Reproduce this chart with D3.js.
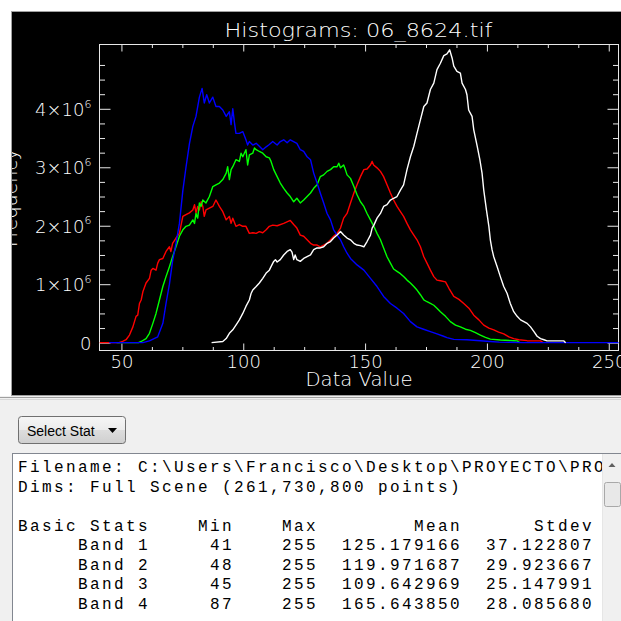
<!DOCTYPE html>
<html><head><meta charset="utf-8">
<script src="https://cdn.jsdelivr.net/npm/d3@7"></script>
<style>html,body{margin:0;padding:0;background:#fff;overflow:hidden}</style>
</head><body>
<svg id="c" width="621" height="621" xmlns="http://www.w3.org/2000/svg"></svg>
<script>
// ---------- DATA (data value, frequency in millions) ----------
const band1 = [[41,0],[45,0],[49,0],[50.5,0.02],[51.9,0.05],[53.3,0.13],[54.7,0.27],[56,0.45],[56.7,0.47],[57.4,0.67],[58.1,0.73],[58.8,0.87],[60.1,1.02],[61.5,1.1],[62.2,1.24],[62.9,1.27],[64.2,1.24],[64.9,1.36],[65.6,1.42],[67,1.44],[68.3,1.56],[69.7,1.64],[70.3,1.56],[71,1.7],[72.4,1.79],[73.8,1.87],[75.2,2.16],[76.5,2.19],[77.9,2.22],[79.3,2.27],[80,2.36],[80.6,2.22],[81.3,2.33],[82,2.27],[82.7,2.41],[83.4,2.33],[84,2.16],[84.7,2.27],[86.1,2.3],[87.5,2.33],[88.8,2.44],[90.2,2.33],[91.6,2.24],[93,2.1],[94.3,2.16],[95,2.04],[95.7,2.13],[97,1.99],[98.4,2.02],[99.8,1.99],[101.1,1.99],[102.5,1.87],[103.9,1.88],[105.3,1.87],[106.6,1.9],[108,1.88],[109.4,1.93],[110.7,1.99],[112.1,2.01],[113.9,2.0],[116.6,2.04],[119.3,2.09],[120.7,2.02],[122,1.96],[123.4,1.84],[124.8,1.82],[126.2,1.76],[127.6,1.7],[128.9,1.67],[130.3,1.67],[131.6,1.64],[133,1.67],[134.4,1.7],[135.8,1.76],[137.1,1.82],[138.5,1.87],[139.9,1.96],[141.2,2.13],[142.6,2.21],[144,2.39],[145.4,2.56],[146.7,2.7],[148.1,2.84],[149.5,2.96],[150.8,2.97],[152.2,3.04],[152.9,3.1],[153.5,3.04],[154.9,2.99],[156.3,2.93],[157.6,2.84],[159,2.7],[160.4,2.56],[161.7,2.44],[163.1,2.33],[164.5,2.24],[165.8,2.16],[167.2,2.04],[168.6,1.93],[170,1.84],[171.3,1.76],[172.7,1.64],[174.1,1.47],[175.4,1.36],[176.8,1.24],[178.2,1.13],[179.5,1.07],[180.9,1.06],[183,1.04],[184.4,0.93],[186.4,0.79],[188.5,0.74],[190.5,0.67],[192.6,0.59],[194.6,0.47],[196.7,0.39],[198.7,0.3],[200.8,0.25],[202.8,0.22],[204.8,0.18],[206.9,0.15],[209,0.1],[211,0.07],[213.1,0.05],[216.5,0.034],[222,0.03],[223,0]];
const band2 = [[48,0],[57,0],[58.1,0.02],[60.1,0.07],[61.5,0.16],[62.9,0.33],[64.2,0.5],[65.6,0.73],[67,0.96],[68.3,1.13],[69.7,1.3],[71,1.47],[72.4,1.64],[73.8,1.82],[75.2,1.93],[76.5,1.99],[77.9,2.01],[79.3,2.1],[80,2.04],[80.6,2.21],[81.3,2.13],[82,2.39],[82.7,2.33],[83.4,2.44],[84.7,2.39],[86.1,2.5],[87.5,2.67],[88.8,2.7],[90.2,2.73],[91.6,2.79],[93,2.9],[93.6,3.01],[94.3,2.79],[95,2.96],[95.7,3.01],[97,3.13],[98.4,3.1],[99.1,3.24],[99.8,3.18],[101.1,3.3],[101.8,3.04],[102.5,3.21],[103.9,3.24],[104.6,3.33],[105.3,3.3],[106.6,3.27],[108,3.24],[109.4,3.18],[110.7,3.16],[111.4,3.1],[112.5,2.96],[113.9,2.84],[115.2,2.73],[116.6,2.64],[118,2.56],[119.3,2.5],[120.7,2.41],[122,2.47],[123.4,2.39],[124.8,2.44],[126.2,2.5],[127.6,2.56],[128.9,2.64],[130.3,2.7],[131.6,2.84],[133,2.87],[134.4,2.93],[135.8,2.96],[137.1,3.01],[138.5,3.01],[139.2,3.07],[139.9,2.99],[141.2,3.04],[141.9,2.96],[142.6,2.87],[144,2.81],[145.4,2.67],[146.7,2.53],[148.1,2.41],[149.5,2.33],[150.8,2.21],[152.2,2.1],[153.6,1.99],[154.9,1.87],[156.3,1.76],[157.6,1.62],[159,1.47],[160.4,1.36],[161.7,1.26],[163.1,1.22],[164.5,1.18],[165.8,1.13],[167.2,1.07],[168.6,1.02],[170,0.96],[171.3,0.9],[172.7,0.82],[174.1,0.73],[175.4,0.7],[176.8,0.67],[178.2,0.64],[179.5,0.59],[180.9,0.53],[183,0.45],[185,0.36],[187.1,0.3],[189.1,0.27],[191.2,0.23],[193.2,0.21],[195.3,0.17],[197.3,0.13],[199.4,0.09],[201.4,0.06],[205.5,0.046],[211,0.034],[212.4,0.03],[213.4,0]];
const band3 = [[45,0],[58.8,0],[61.5,0.03],[64.9,0.1],[67,0.33],[68.3,0.67],[69.7,1.0],[71,1.4],[72.4,1.7],[73.8,2.04],[75.2,2.6],[76.5,3.0],[77.9,3.4],[79.3,3.7],[80.6,3.87],[82,4.2],[83.1,4.35],[84,4.1],[85,4.24],[86.1,4.1],[87.5,4.2],[88.8,4.04],[90.2,4.04],[91.6,3.98],[93,3.87],[94.3,3.95],[95,3.73],[95.7,4.0],[96.4,3.76],[97,3.58],[98.4,3.58],[99.8,3.61],[101.1,3.47],[101.8,3.38],[102.5,3.44],[103.9,3.38],[105.3,3.41],[106.6,3.36],[108,3.3],[109.4,3.35],[110.7,3.39],[112.1,3.44],[113.9,3.38],[115.2,3.44],[116.6,3.47],[118,3.42],[119.3,3.47],[122,3.41],[123.4,3.3],[124.8,3.27],[126.2,3.18],[127.6,3.13],[128.9,2.9],[130.3,2.73],[131.6,2.56],[133,2.39],[134.4,2.21],[135.8,2.1],[137.1,1.93],[138.5,1.84],[139.9,1.76],[141.2,1.64],[142.6,1.53],[144,1.44],[146.7,1.33],[149.5,1.24],[152.2,1.1],[154.9,0.96],[157.6,0.79],[160.4,0.67],[163.1,0.59],[165.8,0.5],[168.6,0.36],[171.3,0.27],[174,0.23],[176.8,0.19],[179.5,0.15],[182.2,0.11],[183.6,0.086],[186.4,0.057],[191.8,0.05],[197.3,0.034],[201.4,0.02],[205,0.01],[215,0],[255,0]];
const band4 = [[87,0],[91.6,0.02],[93,0.07],[94.3,0.16],[95.7,0.22],[97,0.3],[98.4,0.39],[99.8,0.5],[101.1,0.62],[102.5,0.73],[103.2,0.84],[103.9,0.9],[105.3,0.96],[106.6,1.02],[108,1.1],[109.4,1.19],[110.7,1.24],[111.4,1.3],[112.5,1.39],[113.2,1.42],[113.9,1.38],[115.2,1.42],[116.6,1.5],[118,1.56],[119.3,1.59],[120,1.55],[120.7,1.42],[121.3,1.5],[122,1.42],[123.4,1.39],[124.8,1.44],[126.2,1.47],[127.6,1.5],[128.9,1.59],[130.3,1.62],[131.6,1.62],[133,1.64],[134.4,1.7],[135.8,1.73],[137.1,1.79],[138.5,1.84],[139.9,1.9],[141.2,1.84],[142.6,1.79],[144,1.76],[145.4,1.7],[146.7,1.67],[148.1,1.66],[149.5,1.64],[150.8,1.73],[152.2,1.84],[152.9,1.96],[153.6,2.01],[154.9,2.13],[156.3,2.21],[157.6,2.33],[159,2.36],[160.4,2.44],[161.7,2.47],[163.1,2.5],[164.5,2.61],[165.8,2.7],[167.2,2.96],[168.6,3.18],[170,3.36],[171.3,3.58],[172.7,3.81],[174.1,4.04],[175.4,4.1],[176.8,4.33],[178.2,4.44],[179.5,4.67],[180.9,4.78],[182.3,4.91],[183.6,4.94],[184.7,5.01],[185.7,4.87],[186.4,4.73],[187.7,4.64],[189.1,4.61],[189.8,4.44],[191.2,4.33],[191.8,4.24],[192.5,3.98],[193.9,3.87],[194.6,3.64],[196,3.36],[197.1,3.13],[198,2.9],[198.7,2.61],[199.8,2.27],[200.8,1.99],[201.4,1.76],[202.1,1.59],[202.8,1.47],[204.2,1.3],[205.5,1.13],[206.9,0.96],[208.3,0.84],[209.6,0.67],[211,0.53],[212.4,0.45],[213.8,0.39],[216.5,0.33],[217.9,0.27],[219.3,0.19],[220.6,0.11],[222,0.07],[223.4,0.05],[224.7,0.03],[231.6,0.03],[232.3,0]];
const bandNames = ["Band 1","Band 2","Band 3","Band 4"];
const bandColors = ["#ff0000","#00ff00","#0000ff","#ffffff"];
const xMajorTicks = [50,100,150,200,250];
const yMajorTicks = [0,1,2,3,4];          // in units of 10^6
const yTickMantissa = ["0","1×10","2×10","3×10","4×10"];
const yTickExponent = ["","6","6","6","6"];
const titleText = "Histograms: 06_8624.tif";
const xTitle = "Data Value";
const yTitle = "Frequency";
const buttonLabel = "Select Stat";
const statLines = [
  "Filename: C:\\Users\\Francisco\\Desktop\\PROYECTO\\PROYECTO",
  "Dims: Full Scene (261,730,800 points)",
  "",
  "Basic Stats    Min    Max        Mean      Stdev",
  "     Band 1     41    255  125.179166  37.122807",
  "     Band 2     48    255  119.971687  29.923667",
  "     Band 3     45    255  109.642969  25.147991",
  "     Band 4     87    255  165.643850  28.085680"
];

// ---------- DRAW ----------
const svg = d3.select("#c");
const defs = svg.append("defs");
const grad = defs.append("linearGradient").attr("id","btn").attr("x1",0).attr("y1",0).attr("x2",0).attr("y2",1);
grad.append("stop").attr("offset","0%").attr("stop-color","#f6f6f6");
grad.append("stop").attr("offset","50%").attr("stop-color","#ebebeb");
grad.append("stop").attr("offset","51%").attr("stop-color","#dddddd");
grad.append("stop").attr("offset","100%").attr("stop-color","#cfcfcf");
defs.append("clipPath").attr("id","panelClip").append("rect").attr("x",12).attr("y",12).attr("width",609).attr("height",383);
defs.append("clipPath").attr("id","plotClip").append("rect").attr("x",99.5).attr("y",44.5).attr("width",519).attr("height",306);
defs.append("clipPath").attr("id","textClip").append("rect").attr("x",13).attr("y",455).attr("width",589).attr("height",166);

// window backgrounds
svg.append("rect").attr("x",0).attr("y",0).attr("width",621).attr("height",621).attr("fill","#f0f0f0");
svg.append("rect").attr("x",0).attr("y",0).attr("width",621).attr("height",396).attr("fill","#ffffff");
svg.append("rect").attr("x",11.5).attr("y",11.5).attr("width",611).attr("height",384).attr("fill","#000").attr("stroke","#a0a0a0");
svg.append("line").attr("x1",0).attr("x2",621).attr("y1",397.5).attr("y2",397.5).attr("stroke","#a0a0a0");
svg.append("line").attr("x1",0).attr("x2",621).attr("y1",399.5).attr("y2",399.5).attr("stroke","#d8d8d8");

const panel = svg.append("g").attr("clip-path","url(#panelClip)");

const x = d3.scaleLinear().domain([41, 254]).range([99.5, 618.5]);
const y = d3.scaleLinear().domain([-0.134, 5.1]).range([350.5, 44.5]);

const fontHershey = "'DejaVu Sans', sans-serif";

// minor tick values (4 intervals per major)
const xMinor = d3.range(37.5, 255, 12.5).filter(v => v > 41 && v < 254 && xMajorTicks.indexOf(v) < 0);
const yMinor = d3.range(0.25, 5.0, 0.25).filter(v => yMajorTicks.indexOf(v) < 0);

function styleAxis(g){
  g.select(".domain").remove();
  g.selectAll(".tick line").attr("stroke","#e8e8e8").attr("stroke-width",1);
  g.selectAll(".tick text").attr("fill","#ffffff").attr("font-family",fontHershey).attr("font-weight",200);
}
// bottom axis
const gxb = panel.append("g").attr("transform","translate(0,350.5)")
  .call(d3.axisBottom(x).tickValues(xMajorTicks).tickSize(-7).tickPadding(12).tickFormat(d3.format("d")));
styleAxis(gxb); gxb.selectAll(".tick text").attr("font-size",18).attr("dy","0.71em").attr("y",5);
panel.append("g").attr("transform","translate(0,350.5)")
  .call(d3.axisBottom(x).tickValues(xMinor).tickSize(-3.5).tickFormat("")).call(styleAxis);
// top axis
panel.append("g").attr("transform","translate(0,44.5)")
  .call(d3.axisTop(x).tickValues(xMajorTicks).tickSize(-7).tickFormat("")).call(styleAxis);
panel.append("g").attr("transform","translate(0,44.5)")
  .call(d3.axisTop(x).tickValues(xMinor).tickSize(-3.5).tickFormat("")).call(styleAxis);
// left axis
const gyl = panel.append("g").attr("transform","translate(99.5,0)")
  .call(d3.axisLeft(y).tickValues(yMajorTicks).tickSize(-11).tickPadding(8));
styleAxis(gyl);
gyl.selectAll(".tick text").each(function(d,i){
  const t = d3.select(this);
  t.text(null).attr("font-size",18).attr("x",-8).attr("dy","0.36em");
  t.append("tspan").text(yTickMantissa[i]);
  if (yTickExponent[i]) t.append("tspan").attr("font-size",11).attr("dy","-0.75em").text(yTickExponent[i]);
});
panel.append("g").attr("transform","translate(99.5,0)")
  .call(d3.axisLeft(y).tickValues(yMinor).tickSize(-5.5).tickFormat("")).call(styleAxis);
// right axis
panel.append("g").attr("transform","translate(618.5,0)")
  .call(d3.axisRight(y).tickValues(yMajorTicks).tickSize(-11).tickFormat("")).call(styleAxis);
panel.append("g").attr("transform","translate(618.5,0)")
  .call(d3.axisRight(y).tickValues(yMinor).tickSize(-5.5).tickFormat("")).call(styleAxis);
// frame
panel.append("rect").attr("x",99.5).attr("y",44.5).attr("width",519).attr("height",306)
  .attr("fill","none").attr("stroke","#e8e8e8").attr("stroke-width",1);

// curves
const line = d3.line().x(d => x(d[0])).y(d => y(d[1]));
const plotG = panel.append("g").attr("clip-path","url(#plotClip)");
[band1, band2, band3, band4].forEach((b,i) => {
  plotG.append("path").datum(b).attr("d", line).attr("fill","none")
    .attr("stroke", bandColors[i]).attr("stroke-width",1.4).attr("stroke-linejoin","round");
});

// titles
panel.append("text").attr("x",358.5).attr("y",37).attr("text-anchor","middle")
  .attr("fill","#fff").attr("font-family",fontHershey).attr("font-weight",200).attr("font-size",19)
  .attr("textLength",268).attr("lengthAdjust","spacingAndGlyphs").text(titleText);
panel.append("text").attr("x",359).attr("y",386).attr("text-anchor","middle")
  .attr("fill","#fff").attr("font-family",fontHershey).attr("font-weight",200).attr("font-size",19)
  .attr("textLength",107).attr("lengthAdjust","spacingAndGlyphs").text(xTitle);
panel.append("text").attr("transform","translate(17,198) rotate(-90)").attr("text-anchor","middle")
  .attr("fill","#fff").attr("font-family",fontHershey).attr("font-weight",200).attr("font-size",19)
  .text(yTitle);

// button
svg.append("rect").attr("x",18.5).attr("y",416.5).attr("width",107).attr("height",27).attr("rx",3)
  .attr("fill","url(#btn)").attr("stroke","#707070");
svg.append("text").attr("x",27).attr("y",435.5).attr("font-family","'Liberation Sans', Arial, sans-serif")
  .attr("font-size",14).attr("fill","#000").text(buttonLabel);
svg.append("path").attr("d","M108,428 L117,428 L112.5,433 Z").attr("fill","#000");

// text box
svg.append("rect").attr("x",12.5).attr("y",453.5).attr("width",620).attr("height",180)
  .attr("fill","#fff").attr("stroke","#828790");
const tg = svg.append("g").attr("clip-path","url(#textClip)");
statLines.forEach((s,i) => {
  tg.append("text").attr("x",18).attr("y",472 + i*19.5)
    .attr("font-family","'Liberation Mono','Courier New',monospace").attr("font-size",16)
    .attr("letter-spacing","2.4px").attr("fill","#000").style("white-space","pre").text(s);
});
// scrollbar
svg.append("rect").attr("x",603).attr("y",454).attr("width",18).attr("height",167).attr("fill","#f0f0f0");
svg.append("line").attr("x1",602.5).attr("x2",602.5).attr("y1",454).attr("y2",621).attr("stroke","#e6e6e6");
svg.append("path").attr("d","M608.5,467 L615.5,467 L612,463 Z").attr("fill","#606060");
svg.append("rect").attr("x",604.5).attr("y",482.5).attr("width",16).attr("height",24).attr("rx",2)
  .attr("fill","#e8e8e8").attr("stroke","#a8a8a8");
</script>
</body></html>
